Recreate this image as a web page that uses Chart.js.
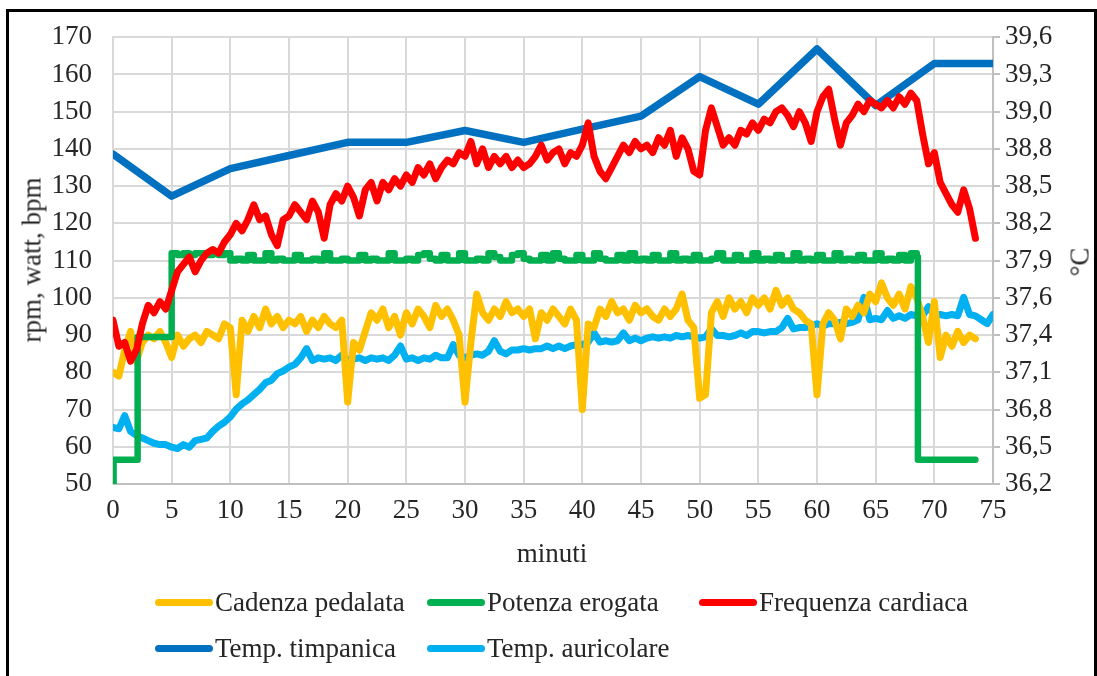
<!DOCTYPE html>
<html>
<head>
<meta charset="utf-8">
<script src="https://cdn.jsdelivr.net/npm/chart.js@4.4.1/dist/chart.umd.min.js"></script>
<style>
  html, body { margin: 0; padding: 0; background: #fff; }
  #wrap { position: relative; width: 1097px; height: 676px; overflow: hidden;
          font-family: "Liberation Serif", "Times New Roman", serif; color: #262626; }
  #frame { position: absolute; left: 6px; top: 9px; width: 1085px; height: 720px; border: 3px solid #000; }
  #c { position: absolute; left: 0; top: 0; }
  .txt { position: absolute; font-size: 27px; line-height: 1; white-space: nowrap; }
  .rot { transform: translate(-50%, -50%) rotate(-90deg); }
  .swatch { position: absolute; height: 7px; width: 58px; border-radius: 4px; }
</style>
</head>
<body>
<div id="wrap">
  <div id="frame"></div>
  <canvas id="c" width="1097" height="676"></canvas>
  <div class="txt rot" style="left:32px; top:260px;">rpm, watt, bpm</div>
  <div class="txt rot" style="left:1080px; top:262px;">°C</div>
  <div class="txt" style="left:552px; top:553px; transform:translate(-50%,-50%);">minuti</div>
  <div id="legend"></div>
</div>
<script>
// Sample times (minutes), one reading every half minute
const minuti = [
  0,0.5,1,1.5,2,2.5,3,3.5,4,4.5, 5,5.5,6,6.5,7,7.5,8,8.5,9,9.5,
  10,10.5,11,11.5,12,12.5,13,13.5,14,14.5, 15,15.5,16,16.5,17,17.5,18,18.5,19,19.5,
  20,20.5,21,21.5,22,22.5,23,23.5,24,24.5, 25,25.5,26,26.5,27,27.5,28,28.5,29,29.5,
  30,30.5,31,31.5,32,32.5,33,33.5,34,34.5, 35,35.5,36,36.5,37,37.5,38,38.5,39,39.5,
  40,40.5,41,41.5,42,42.5,43,43.5,44,44.5, 45,45.5,46,46.5,47,47.5,48,48.5,49,49.5,
  50,50.5,51,51.5,52,52.5,53,53.5,54,54.5, 55,55.5,56,56.5,57,57.5,58,58.5,59,59.5,
  60,60.5,61,61.5,62,62.5,63,63.5,64,64.5, 65,65.5,66,66.5,67,67.5,68,68.5,69,69.5,
  70,70.5,71,71.5,72,72.5,73,73.5,74,74.5, 75
];

// Cadenza pedalata (rpm)
const cadenza = [
  80,79,86,91,83,88,90,89,91,88,
  84,90,87,89,90,88,91,90,89,93,
  92,74,94,91,95,92,97,93,95,92,
  94,93,95,91,94,92,95,93,92,94,
  72,88,86,91,96,94,97,92,95,90,
  96,93,97,95,92,98,95,97,94,90,
  72,88,101,96,94,97,95,99,96,97,
  95,97,89,96,94,97,95,93,97,94,
  70,93,92,97,95,99,96,97,94,98,
  96,97,95,94,97,95,97,101,94,92,
  73,74,96,99,95,100,97,99,96,100,
  98,100,97,102,98,100,97,96,94,93,
  74,93,96,94,89,97,95,98,96,101,
  99,104,100,98,101,97,103,100,95,88,
  99,84,90,87,91,88,90,89
];

// Potenza erogata (watt): change points, then half-minute readings 5.0 - 68.5
const potenzaT = [0, 0.05, 2.1].concat(minuti.slice(10, 138), [68.6, 73.5]);
const potenza = [
  50, 56.5, 89.5,
  112,111.5,112,111.5,112,112,111.5,112,111.5,112,
  110,110.5,110,111.5,110,110,112,110,110.5,110,
  110,111.5,110,110,110.5,110,112,110,110,110.5,
  110,110,111.5,110,110.5,110,110,112,110,110,
  110.5,110,111.5,112,110.5,110,111.5,110,110,112,
  110,110,110.5,110,112,111,110,110,111.5,112,
  110.5,110,110,111.5,110,112,110.5,110,110,111.5,
  110,110,112,110.5,110,110,111.5,110,112,110,
  110.5,110,111.5,110,110,112,110,110.5,110,111.5,
  110,110,110.5,112,110,110,111.5,110,110,112,
  110,110.5,110,111.5,110,110,112,110,110.5,110,
  111.5,110,110,112,110,110.5,110,111.5,110,110,
  112,110,110.5,110,111.5,110,112,111,
  56.5, 56.5
];

// Frequenza cardiaca (bpm)
const frequenza = [
  94,87,88,83,86,93,98,96,99,97,
  102,107,109,111,107,110,112,113,112,115,
  117,120,118,121,125,121,122,117,114,121,
  122,125,123,121,126,123,116,125,128,126,
  130,127,122,129,131,126,131,129,132,130,
  133,131,135,133,136,132,135,137,136,139,
  138,142,136,140,135,138,136,138,135,137,
  135,136,138,141,137,139,140,136,139,138,
  141,147,138,134,132,135,138,141,139,142,
  140,141,139,143,141,145,138,143,140,134,
  133,145,151,146,141,143,141,145,144,147,
  145,148,147,150,151,149,146,150,147,142,
  150,154,156,148,141,147,149,152,150,153,
  152,151,153,151,154,152,155,153,144,136,
  139,131,128,125,123,129,124,116
];

// Temp. timpanica (°C), one reading every 5 minutes
const timpanicaT = [0,5,10,15,20,25,30,35,40,45,50,55,60,65,70,75];
const timpanica = [38.71,38.39,38.60,38.70,38.80,38.80,38.89,38.80,38.90,39.00,39.30,39.09,39.51,39.08,39.40,39.40];

// Temp. auricolare (°C)
const auricolare = [
  36.63,36.62,36.72,36.60,36.57,36.55,36.53,36.51,36.50,36.50,
  36.48,36.47,36.50,36.48,36.53,36.54,36.55,36.60,36.64,36.67,
  36.71,36.77,36.81,36.84,36.88,36.92,36.97,36.99,37.04,37.06,
  37.09,37.11,37.16,37.23,37.14,37.16,37.15,37.16,37.14,37.18,
  37.14,37.15,37.16,37.14,37.16,37.15,37.16,37.14,37.18,37.25,
  37.15,37.16,37.14,37.16,37.15,37.18,37.16,37.16,37.26,37.18,
  37.16,37.18,37.19,37.18,37.21,37.29,37.21,37.19,37.22,37.22,
  37.23,37.22,37.23,37.23,37.25,37.23,37.25,37.23,37.25,37.26,
  37.26,37.28,37.35,37.28,37.29,37.28,37.29,37.35,37.29,37.31,
  37.29,37.31,37.32,37.31,37.32,37.31,37.33,37.32,37.33,37.32,
  37.31,37.32,37.38,37.33,37.33,37.32,37.33,37.35,37.33,37.36,
  37.36,37.35,37.36,37.36,37.39,37.46,37.38,37.39,37.39,37.40,
  37.42,37.40,37.42,37.42,37.43,37.42,37.43,37.45,37.62,37.45,
  37.46,37.45,37.52,37.46,37.48,37.46,37.49,37.48,37.48,37.55,
  37.48,37.49,37.48,37.49,37.48,37.62,37.49,37.48,37.45,37.42,
  37.49
];

// Right-axis tick labels (°C)
const tickC = ['36,2','36,5','36,8','37,1','37,4','37,6','37,9','38,2','38,5','38,8','39,0','39,3','39,6'];

const pts = (xs, ys) => ys.map((y, i) => ({ x: xs[i], y }));

const font = { family: '"Liberation Serif", "Times New Roman", serif', size: 27 };
const textColor = '#262626';
const gridColor = '#d9d9d9';
const axisColor = '#bfbfbf';

const datasets = [
  { label: 'Cadenza pedalata', data: pts(minuti, cadenza), borderColor: '#FFC000', borderWidth: 7, yAxisID: 'y', order: 2 },
  { label: 'Potenza erogata', data: pts(potenzaT, potenza), borderColor: '#00B050', borderWidth: 6.5, yAxisID: 'y', stepped: true, order: 1 },
  { label: 'Frequenza cardiaca', data: pts(minuti, frequenza), borderColor: '#FF0000', borderWidth: 7, yAxisID: 'y', order: 0 },
  { label: 'Temp. timpanica', data: pts(timpanicaT, timpanica), borderColor: '#0070C0', borderWidth: 7.5, yAxisID: 'y1', order: 4 },
  { label: 'Temp. auricolare', data: pts(minuti, auricolare), borderColor: '#00B0F0', borderWidth: 7, yAxisID: 'y1', order: 3 }
];

const chart = new Chart(document.getElementById('c'), {
  type: 'line',
  data: { datasets },
  options: {
    responsive: false,
    animation: false,
    layout: { padding: { top: 36, left: 0, right: 0, bottom: 0 } },
    plugins: { legend: { display: false }, tooltip: { enabled: false } },
    elements: {
      point: { radius: 0 },
      line: { tension: 0, borderJoinStyle: 'round', borderCapStyle: 'round', fill: false }
    },
    scales: {
      x: {
        type: 'linear', min: 0, max: 75,
        ticks: { stepSize: 5, font, color: textColor, padding: 11, maxRotation: 0, autoSkip: false },
        grid: { color: gridColor, lineWidth: 2, drawTicks: false },
        border: { color: axisColor, width: 2 },
        afterFit: s => { s.height = 192; }
      },
      y: {
        position: 'left', min: 50, max: 170,
        ticks: { stepSize: 10, font, color: textColor, padding: 21 },
        grid: { color: gridColor, lineWidth: 2, drawTicks: false },
        border: { color: gridColor, width: 2 },
        afterFit: s => { s.width = 113; }
      },
      y1: {
        position: 'right', min: 36.2, max: 39.6,
        afterBuildTicks: s => {
          s.ticks = tickC.map((_, i) => ({ value: s.min + i * (s.max - s.min) / (tickC.length - 1) }));
        },
        ticks: { callback: (v, i) => tickC[i], font, color: textColor, padding: 5 },
        grid: { drawOnChartArea: false, drawTicks: true, tickLength: 7, color: axisColor, lineWidth: 2 },
        border: { color: axisColor, width: 2 },
        afterFit: s => { s.width = 104; }
      }
    }
  }
});

// Legend laid out in a three-column grid under the plot
const legend = document.getElementById('legend');
const cols = [155, 427, 699];
const rows = [602, 648];
chart.data.datasets.forEach((ds, i) => {
  const left = cols[i % 3];
  const top = rows[Math.floor(i / 3)];
  const sw = document.createElement('div');
  sw.className = 'swatch';
  sw.style.left = left + 'px';
  sw.style.top = (top - 3.5) + 'px';
  sw.style.background = ds.borderColor;
  legend.appendChild(sw);
  const tx = document.createElement('div');
  tx.className = 'txt';
  tx.style.left = (left + 60) + 'px';
  tx.style.top = top + 'px';
  tx.style.transform = 'translateY(-50%)';
  tx.textContent = ds.label;
  legend.appendChild(tx);
});
</script>
</body>
</html>
